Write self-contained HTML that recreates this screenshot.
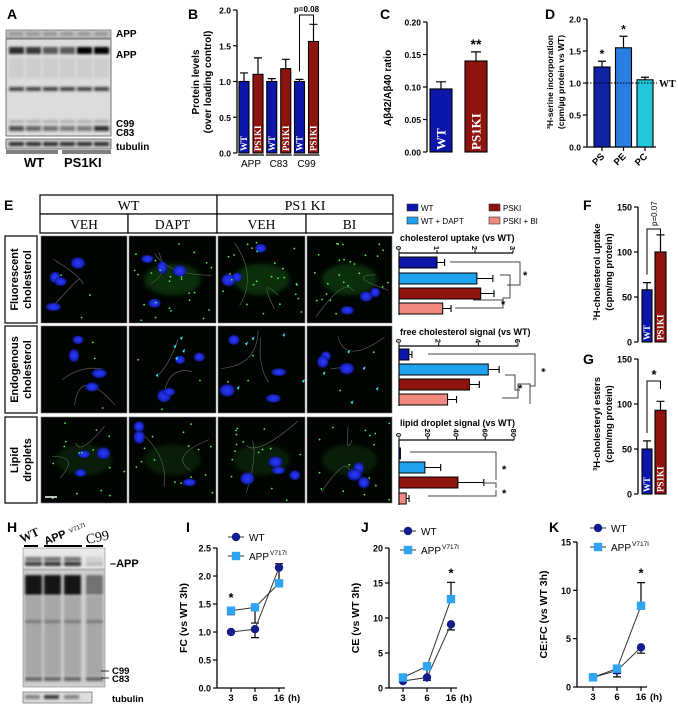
<!DOCTYPE html>
<html><head><meta charset="utf-8">
<style>
html,body{margin:0;padding:0;background:#fff;}
svg{display:block;}
text{font-family:"Liberation Sans",Arial,sans-serif;}
.b{font-weight:bold;}
.serif{font-family:"Liberation Serif","Times New Roman",serif;}
</style></head>
<body>
<svg id="fig" width="678" height="709" viewBox="0 0 678 709" xmlns="http://www.w3.org/2000/svg">
<defs>
<filter id="blur1" x="-20%" y="-50%" width="140%" height="200%"><feGaussianBlur stdDeviation="1.2"/></filter>
<filter id="blur2" x="-50%" y="-50%" width="200%" height="200%"><feGaussianBlur stdDeviation="2"/></filter>
<radialGradient id="nuc" cx="50%" cy="50%" r="50%"><stop offset="0" stop-color="#2a3cff"/><stop offset="0.7" stop-color="#1a26c8"/><stop offset="1" stop-color="#0a1070" stop-opacity="0.6"/></radialGradient>
</defs>
<g class="b" font-size="14" font-weight="bold">
<text x="7" y="19">A</text>
<text x="188" y="19">B</text>
<text x="380" y="19">C</text>
<text x="545" y="19">D</text>
<text x="4" y="210">E</text>
<text x="583" y="210">F</text>
<text x="583" y="364">G</text>
<text x="7" y="532">H</text>
<text x="186" y="532">I</text>
<text x="361" y="532">J</text>
<text x="549" y="532">K</text>
</g>
</svg>
<script>
// ---------- DATA ----------
const bCategories=["APP","C83","C99"];
const bWT=[1.0,1.0,1.0];
const bKI=[1.10,1.18,1.56];
const bWTerr=[0.12,0.04,0.03];
const bKIerr=[0.23,0.13,0.24];
const bTicks=[0,0.5,1.0,1.5,2.0];
const bTickLabels=["0.0","0.5","1.0","1.5","2.0"];

const cGroups=["WT","PS1KI"];
const cValues=[0.097,0.140];
const cErr=[0.011,0.014];
const cTicks=[0,0.05,0.10,0.15,0.20];
const cTickLabels=["0.00","0.05","0.10","0.15","0.20"];

const dCategories=["PS","PE","PC"];
const dValues=[1.25,1.55,1.05];
const dErr=[0.09,0.18,0.04];
const dTicks=[0,0.5,1.0,1.5,2.0];
const dTickLabels=["0.0","0.5","1.0","1.5","2.0"];

const eGroups=["WT","WT + DAPT","PSKI","PSKI + BI"];
const eUptake=[1.0,2.05,2.15,1.15];
const eUptakeErr=[0.2,0.42,0.35,0.22];
const eUptakeTicks=[0,1,2,3];
const eFree=[0.5,4.5,3.55,2.45];
const eFreeErr=[0.15,0.55,0.5,0.45];
const eFreeTicks=[0,2,4,6];
const eLipid=[1,18,41,5];
const eLipidErr=[0,11,18,2];
const eLipidTicks=[0,20,40,60,80];

const fGroups=["WT","PS1KI"];
const fValues=[58,100];
const fErr=[8,19];
const gValues=[50,93];
const gErr=[9,10];
const fgTicks=[0,50,100,150];

const timeLabels=["3","6","16"];
const iWT=[1.0,1.05,2.15];
const iWTerr=[0,0.15,0];
const iAPP=[1.38,1.44,1.87];
const iAPPerr=[0.07,0.28,0.35];
const iTicks=[0,0.5,1.0,1.5,2.0,2.5];
const iTickLabels=["0.0","0.5","1.0","1.5","2.0","2.5"];
const jWT=[1.0,1.5,9.1];
const jWTerr=[0,0.4,0.8];
const jAPP=[1.5,3.1,12.7];
const jAPPerr=[0.3,1.6,2.4];
const jTicks=[0,5,10,15,20];
const kWT=[1.0,1.7,4.1];
const kWTerr=[0,0.65,0.6];
const kAPP=[1.0,1.9,8.4];
const kAPPerr=[0,0.5,2.4];
const kTicks=[0,5,10,15];

// ---------- HELPERS ----------
const NS='http://www.w3.org/2000/svg';
const svg=document.getElementById('fig');
function mk(tag,a,p){const e=document.createElementNS(NS,tag);for(const k in a)e.setAttribute(k,a[k]);(p||svg).appendChild(e);return e;}
function txt(s,a,p){const e=mk('text',a,p);e.textContent=s;return e;}
function grp(name){const g=mk('g',{});


return g;}

function yAxis(g,x,yf,ticks,labels,fs){
  const l=mk('line',{x1:x,x2:x,y1:yf(ticks[ticks.length-1]),y2:yf(ticks[0]),stroke:'#000','stroke-width':1.3},g);
  
  
  ticks.forEach((t,i)=>{
    const tk=mk('line',{x1:x-4,x2:x,y1:yf(t),y2:yf(t),stroke:'#000','stroke-width':1.2},g);
    
    
    const tl=txt(labels[i],{x:x-6,y:yf(t)+3.5,'text-anchor':'end','font-size':fs||9,'font-weight':'bold'},g);
    
    
  });
}
function vbar(g,x,w,y0,ytop,fill,name){
  const r=mk('rect',{x:x,y:ytop,width:w,height:y0-ytop,fill:fill,stroke:'#000','stroke-width':1.1},g);
  
  
  return r;
}
function verr(g,cx,ytop,yerr,cap){
  const e=mk('path',{d:`M${cx},${ytop}V${yerr}M${cx-cap},${yerr}H${cx+cap}`,stroke:'#000','stroke-width':1.2,fill:'none'},g);
  
  
}
function barLabel(g,s,cx,ybottom,fs){
  const t=txt(s,{x:0,y:0,transform:`translate(${cx+fs*0.36},${ybottom-2}) rotate(-90)`,'font-size':fs,fill:'#fff','font-weight':'bold',class:'serif'},g);
  
  
}
function rotText(g,s,x,y,fs,name,extra){
  const t=txt(s,Object.assign({x:0,y:0,transform:`translate(${x},${y}) rotate(-90)`,'text-anchor':'middle','font-size':fs,'font-weight':'bold'},extra||{}),g);
  
  
  return t;
}
const C_WT='#0c16a8', C_KI='#8e1410', C_DAPT='#1ea2ee', C_BI='#f08a80';

// ---------- A: western blot ----------
(function(){
  const g=grp('panel-a-blot');
  const bg1=mk('rect',{x:6,y:30,width:105,height:8,fill:'#c4c4c4',stroke:'#777','stroke-width':0.8},g);
  
  
  const bg2=mk('rect',{x:6,y:39,width:105,height:97,fill:'#dcdcdc',stroke:'#555','stroke-width':0.8},g);
  
  
  const bg3=mk('rect',{x:6,y:139,width:105,height:10,fill:'#d0d0d0',stroke:'#555','stroke-width':0.8},g);
  
  
  const appI=[0.8,0.75,0.6,0.6,1,1];
  const c83I=[0.7,0.6,0.55,0.5,0.5,0.85];
  for(let i=0;i<6;i++){
    const x=9+i*17;
    const b=mk('g',{filter:'url(#blur1)'},g);
    
    
    mk('rect',{x:x,y:32,width:14,height:4,fill:'#999'},b);
    mk('rect',{x:x,y:47,width:15,height:7,fill:'#000','fill-opacity':appI[i]},b);
    mk('rect',{x:x,y:58,width:15,height:20,fill:'#aaa','fill-opacity':0.3},b);
    mk('rect',{x:x,y:87,width:15,height:4,fill:'#222','fill-opacity':0.8},b);
    mk('rect',{x:x,y:120,width:15,height:3,fill:'#444','fill-opacity':0.3},b);
    mk('rect',{x:x,y:126,width:15,height:5,fill:'#111','fill-opacity':c83I[i]},b);
    mk('rect',{x:x,y:142,width:15,height:4,fill:'#111','fill-opacity':0.85},b);
  }
  const labs=[["APP",34],["APP",55],["C99",124],["C83",133],["tubulin",147]];
  labs.forEach(l=>{const t=txt(l[0],{x:116,y:l[1]+3,'font-size':10,'font-weight':'bold'},g);
    
    });
  mk('path',{d:'M6,151H58M62,151H111M6,153H58M62,153H111',stroke:'#000','stroke-width':1},g);
  const w=txt('WT',{x:24,y:167,'font-size':13,'font-weight':'bold'},g);
  
  
  const k=txt('PS1KI',{x:64,y:167,'font-size':13,'font-weight':'bold'},g);
  
  
})();

// ---------- B ----------
(function(){
  const g=grp('panel-b-chart');
  const y=v=>153-v*71.5;
  yAxis(g,237,y,bTicks,bTickLabels,8.5);
  bCategories.forEach((c,i)=>{
    const cx=251+i*27.75;
    vbar(g,cx-12,10,y(0),y(bWT[i]),C_WT,'bar-wt-'+c.toLowerCase());
    verr(g,cx-7,y(bWT[i]),y(bWT[i]+bWTerr[i]),4);
    barLabel(g,'WT',cx-7,y(0),9);
    vbar(g,cx+2,10,y(0),y(bKI[i]),C_KI,'bar-ps1ki-'+c.toLowerCase());
    verr(g,cx+7,y(bKI[i]),y(bKI[i]+bKIerr[i]),4);
    barLabel(g,'PS1KI',cx+7,y(0),9);
    const ln=mk('line',{x1:cx-13,x2:cx+13,y1:155,y2:155,stroke:'#000','stroke-width':1.2},g);
    
    
    const t=txt(c,{x:cx,y:167,'text-anchor':'middle','font-size':10},g);
    
    
  });
  const cx=251+2*27.75;
  const br=mk('path',{d:`M${cx-7},${y(bWT[2])-10}V15H${cx+7}V24`,stroke:'#000','stroke-width':1,fill:'none'},g);
  
  
  const p=txt('p=0.08',{x:cx,y:12,'text-anchor':'middle','font-size':8,'font-weight':'bold'},g);
  
  
  rotText(g,'Protein levels',199,82,10,'y-axis-title');
  rotText(g,'(over loading control)',211,82,10,'y-axis-title');
})();

// ---------- C ----------
(function(){
  const g=grp('panel-c-chart');
  const y=v=>152-v*650;
  yAxis(g,427,y,cTicks,cTickLabels,8.5);
  const xs=[430,465], cols=[C_WT,C_KI];
  cGroups.forEach((c,i)=>{
    vbar(g,xs[i],22,y(0),y(cValues[i]),cols[i],'bar-'+c.toLowerCase());
    verr(g,xs[i]+11,y(cValues[i]),y(cValues[i]+cErr[i]),5);
    barLabel(g,c,xs[i]+11,y(0),13);
  });
  const s=txt('**',{x:476,y:y(cValues[1]+cErr[1])-3,'text-anchor':'middle','font-size':14,'font-weight':'bold'},g);
  
  
  rotText(g,'Aβ42/Aβ40 ratio',391,88,10,'y-axis-title');
})();

// ---------- D ----------
(function(){
  const g=grp('panel-d-chart');
  const y=v=>147-v*64;
  yAxis(g,587,y,dTicks,dTickLabels,8.5);
  const cols=['#1222a4','#2a7ee2','#22c8da'];
  const xl=mk('line',{x1:587,x2:656,y1:147,y2:147,stroke:'#000','stroke-width':1.3},g);
  
  
  dCategories.forEach((c,i)=>{
    const x=594+i*21.5;
    vbar(g,x,16,y(0),y(dValues[i]),cols[i],'bar-'+c.toLowerCase());
    verr(g,x+8,y(dValues[i]),y(dValues[i]+dErr[i]),4);
    const tk=mk('line',{x1:x+8,x2:x+8,y1:147,y2:151,stroke:'#000','stroke-width':1.2},g);
    
    
    const t=txt(c,{x:0,y:0,transform:`translate(${x+11},${157}) rotate(-45)`,'text-anchor':'end','font-size':9.5,'font-weight':'bold'},g);
    
    
    if(i<2){const s=txt('*',{x:x+8,y:y(dValues[i]+dErr[i])-3,'text-anchor':'middle','font-size':12,'font-weight':'bold'},g);
      
      }
  });
  const dl=mk('line',{x1:587,x2:657,y1:y(1),y2:y(1),stroke:'#000','stroke-width':1,'stroke-dasharray':'1.5,1.5'},g);
  
  
  const wt=txt('WT',{x:659,y:y(1)+4,'font-size':10,'font-weight':'bold',class:'serif'},g);
  
  
  rotText(g,'³H-serine incorporation',553,82,8.5,'y-axis-title');
  rotText(g,'(cpm/µg protein vs WT)',564,82,8.5,'y-axis-title');
})();

// ---------- E: table + microscopy ----------
(function(){
  const g=grp('panel-e-images');
  const hs=[[40,217,'WT'],[217,393,'PS1 KI']];
  hs.forEach(h=>{const r=mk('rect',{x:h[0],y:195,width:h[1]-h[0],height:19,fill:'#fff',stroke:'#000','stroke-width':1.2},g);
    
    
    const t=txt(h[2],{x:(h[0]+h[1])/2,y:210,'text-anchor':'middle','font-size':14,class:'serif'},g);
    
    });
  const cols=[[40,128,'VEH'],[128,217,'DAPT'],[217,306,'VEH'],[306,393,'BI']];
  cols.forEach(h=>{const r=mk('rect',{x:h[0],y:214,width:h[1]-h[0],height:19,fill:'#fff',stroke:'#000','stroke-width':1.2},g);
    
    
    const t=txt(h[2],{x:(h[0]+h[1])/2,y:229,'text-anchor':'middle','font-size':13.5,class:'serif'},g);
    
    });
  const rows=[[236,323,['Fluorescent','cholesterol']],[326,413,['Endogenous','cholesterol']],[417,503,['Lipid','droplets']]];
  let seed=7; const rnd=()=>{seed=(seed*9301+49297)%233280;return seed/233280;};
  rows.forEach((r,ri)=>{
    const lb=mk('rect',{x:5,y:r[0],width:32,height:r[1]-r[0],fill:'#fff',stroke:'#000','stroke-width':1.2},g);
    
    
    rotText(g,r[2][0],18,(r[0]+r[1])/2,11,'row-label');
    rotText(g,r[2][1],31,(r[0]+r[1])/2,11,'row-label');
    cols.forEach((c,ci)=>{
      const cell=mk('g',{},g);
      
      
      mk('rect',{x:c[0]+1,y:r[0],width:c[1]-c[0]-2,height:r[1]-r[0],fill:'#020402',stroke:'#777','stroke-width':0.6},cell);
      const w=c[1]-c[0]-8,h=r[1]-r[0]-8;
      for(let k=0;k<2;k++){
        const x1=c[0]+4+rnd()*w,y1=r[0]+4+rnd()*h,x2=c[0]+4+rnd()*w,y2=r[0]+4+rnd()*h;
        mk('path',{d:`M${x1},${y1}Q${c[0]+w/2},${r[0]+h/2} ${x2},${y2}`,stroke:'#aaa','stroke-width':0.6,fill:'none','stroke-opacity':0.6},cell);
      }
      const greenAmt=(ri===0&&ci>0)?1:(ri===2?0.6:0.15);
      if(greenAmt>0.3){
        mk('ellipse',{cx:c[0]+w*0.55,cy:r[0]+h*0.55,rx:w*0.35,ry:h*0.2,fill:'#1a7a1a','fill-opacity':0.35*greenAmt,filter:'url(#blur2)'},cell);
      }
      const nN=3+Math.floor(rnd()*2);
      for(let k=0;k<nN;k++){
        mk('ellipse',{cx:c[0]+10+rnd()*(w-12),cy:r[0]+8+rnd()*(h-12),rx:5+rnd()*3,ry:4+rnd()*3,fill:'url(#nuc)'},cell);
      }
      const nG=Math.floor(25*greenAmt);
      for(let k=0;k<nG;k++){
        mk('circle',{cx:c[0]+6+rnd()*w,cy:r[0]+6+rnd()*h,r:0.9,fill:'#4cf04c'},cell);
      }
      if(ri===1&&ci>0){for(let k=0;k<5;k++){
        mk('path',{d:`M${c[0]+8+rnd()*w},${r[0]+8+rnd()*h}l3,-2l-1,4z`,fill:'#30e0f0'},cell);}}
    });
  });
  const sb=mk('line',{x1:45,x2:57,y1:497,y2:497,stroke:'#fff','stroke-width':1.5},g);
  
  
})();

// ---------- E legend ----------
(function(){
  const g=grp('panel-e-legend');
  const cols=[C_WT,C_DAPT,C_KI,C_BI];
  const pos=[[407,204],[407,217],[489,204],[489,217]];
  eGroups.forEach((n,i)=>{
    const r=mk('rect',{x:pos[i][0],y:pos[i][1],width:11,height:7,fill:cols[i],stroke:'#333','stroke-width':0.6},g);
    
    
    const t=txt(n,{x:pos[i][0]+14,y:pos[i][1]+7,'font-size':8},g);
    
    
  });
})();

// ---------- E horizontal bar charts ----------
function hChart(name,title,titleY,axisY,xMax,xEnd,ticks,vals,errs,barYs){
  const g=grp(name);
  const x=v=>399+v*(xEnd-399)/xMax;
  const tt=txt(title,{x:400,y:titleY,'font-size':9,'font-weight':'bold'},g);
  
  
  const ax=mk('line',{x1:399,x2:x(xMax),y1:axisY,y2:axisY,stroke:'#000','stroke-width':1.2},g);
  
  
  const ay=mk('line',{x1:399,x2:399,y1:axisY,y2:barYs[3]+12,stroke:'#000','stroke-width':1.2},g);
  
  
  ticks.forEach(t=>{
    const tk=mk('line',{x1:x(t),x2:x(t),y1:axisY-3,y2:axisY,stroke:'#000','stroke-width':1},g);
    
    
    const tl=txt(String(t),{x:0,y:0,transform:`translate(${x(t)-3},${axisY-3}) rotate(90)`,'text-anchor':'end','font-size':7.5,'font-weight':'bold'},g);
    
    
  });
  const cols=[C_WT,C_DAPT,C_KI,C_BI];
  vals.forEach((v,i)=>{
    const r=mk('rect',{x:399,y:barYs[i],width:Math.max(1,x(v)-399),height:11,fill:cols[i],stroke:'#000','stroke-width':1},g);
    
    
    if(errs[i]>0){
      const e=mk('path',{d:`M${x(v)},${barYs[i]+5.5}H${x(v+errs[i])}M${x(v+errs[i])},${barYs[i]+2}V${barYs[i]+9}`,stroke:'#000','stroke-width':1.1,fill:'none'},g);
      
      
    }
  });
  return g;
}
(function(){
  const g1=hChart('panel-e-uptake-chart','cholesterol uptake (vs WT)',241,253,3,513,eUptakeTicks,eUptake,eUptakeErr,[257,273,288,303]);
  const s1=mk('path',{d:'M450,262H520V285H507M500,275H510V298H503V308H455M473,300H503',stroke:'#444','stroke-width':1,fill:'none'},g1);
  
  
  const a1=txt('*',{x:523,y:279,'font-size':11,'font-weight':'bold'},g1);
  
  
  const a2=txt('*',{x:501,y:308,'font-size':11,'font-weight':'bold'},g1);
  
  
  const g2=hChart('panel-e-free-chart','free cholesterol signal (vs WT)',335,346,6,518,eFreeTicks,eFree,eFreeErr,[349,364,379,394]);
  const s2=mk('path',{d:'M428,354H535V386H530M505,375H515V390H520M502,398H518V384H530V404',stroke:'#444','stroke-width':1,fill:'none'},g2);
  
  
  const a3=txt('*',{x:0,y:0,transform:'translate(538,368) rotate(90)','font-size':11,'font-weight':'bold'},g2);
  
  
  const a4=txt('*',{x:518,y:392,'font-size':11,'font-weight':'bold'},g2);
  
  
  const g3=hChart('panel-e-lipid-chart','lipid droplet signal (vs WT)',426,440,80,514,eLipidTicks,eLipid,eLipidErr,[448,462,477,493]);
  const s3=mk('path',{d:'M410,452H496V480M483,483H496V488M496,490V496H428',stroke:'#444','stroke-width':1,fill:'none'},g3);
  
  
  const a5=txt('*',{x:502,y:473,'font-size':11,'font-weight':'bold'},g3);
  
  
  const a6=txt('*',{x:502,y:497,'font-size':11,'font-weight':'bold'},g3);
  
  
})();

// ---------- F & G ----------
function fgChart(name,y0,vals,errs,t1,t2,sig){
  const g=grp(name);
  const y=v=>y0-v*0.9;
  yAxis(g,638,y,fgTicks,fgTicks.map(String),9);
  const xs=[642,655],w=[10,11],cols=[C_WT,C_KI];
  fGroups.forEach((c,i)=>{
    vbar(g,xs[i],w[i],y(0),y(vals[i]),cols[i],'bar-'+c.toLowerCase());
    verr(g,xs[i]+w[i]/2,y(vals[i]),y(vals[i]+errs[i]),4);
    barLabel(g,c,xs[i]+w[i]/2,y(0),9);
  });
  rotText(g,t1,600,y0-70,9.5,'y-axis-title');
  rotText(g,t2,612,y0-70,9.5,'y-axis-title');
  const top=y0-135+22;
  const br=mk('path',{d:`M647,${y(vals[0]+errs[0])-8}V${top}H660.5V${top+8}`,stroke:'#000','stroke-width':1,fill:'none'},g);
  
  
  if(sig==='*'){const s=txt('*',{x:654,y:top-2,'text-anchor':'middle','font-size':13,'font-weight':'bold'},g);
    
    }
  else{const s=txt(sig,{x:0,y:0,transform:`translate(657,${top-3}) rotate(-90)`,'font-size':8},g);
    
    }
}
fgChart('panel-f-chart',342,fValues,fErr,'³H-cholesterol uptake','(cpm/mg protein)','p=0.07');
fgChart('panel-g-chart',494,gValues,gErr,'³H-cholesteryl esters','(cpm/mg protein)','*');

// ---------- H blot ----------
(function(){
  const g=grp('panel-h-blot');
  mk('path',{d:'M24,546H38M44,546H82M86,546H103',stroke:'#000','stroke-width':2},g);
  const t1=txt('WT',{x:0,y:0,transform:'translate(22,543) rotate(-25)','font-size':12,'font-weight':'bold',class:'serif'},g);
  
  
  const t2=txt('APP',{x:0,y:0,transform:'translate(46,545) rotate(-22)','font-size':11,'font-weight':'bold'},g);
  
  
  const t2s=txt('V717I',{x:0,y:0,transform:'translate(70,533) rotate(-22)','font-size':6.5},g);
  
  
  const t3=txt('C99',{x:0,y:0,transform:'translate(87,544) rotate(-12)','font-size':14,class:'serif'},g);
  
  
  const r1=mk('rect',{x:23,y:548,width:82,height:21,fill:'#e8e8e8',stroke:'#888','stroke-width':0.6},g);
  
  
  const r2=mk('rect',{x:23,y:570,width:82,height:117,fill:'#cfcfcf',stroke:'#888','stroke-width':0.6},g);
  
  
  const r3=mk('rect',{x:23,y:692,width:69,height:11,fill:'#ddd',stroke:'#555','stroke-width':0.6},g);
  
  
  const bl=mk('g',{filter:'url(#blur1)'},g);
  
  
  const lx=[25,44,64,86], top=[0.8,0.85,0.85,0.2], heavy=[1,1,1,0.5];
  for(let i=0;i<4;i++){
    mk('rect',{x:lx[i],y:557,width:17,height:4,fill:'#222','fill-opacity':top[i]*0.7},bl);
    mk('rect',{x:lx[i],y:562,width:17,height:4,fill:'#111','fill-opacity':top[i]},bl);
    mk('rect',{x:lx[i],y:575,width:17,height:20,fill:'#000','fill-opacity':heavy[i]*0.9},bl);
    mk('rect',{x:lx[i],y:596,width:17,height:80,fill:'#777','fill-opacity':0.45},bl);
    mk('rect',{x:lx[i],y:620,width:17,height:3,fill:'#333','fill-opacity':0.4},bl);
    mk('rect',{x:lx[i],y:677,width:17,height:4,fill:'#333','fill-opacity':0.7},bl);
    mk('rect',{x:lx[i],y:695,width:i===3?0:15,height:4,fill:'#222','fill-opacity':i===1?0.9:0.5},bl);
  }
  mk('path',{d:'M101,671H109M101,678H109',stroke:'#000','stroke-width':0.8},g);
  const ls=[['–APP',110,567,11],['C99',112,674,9.5],['C83',112,682,9.5],['tubulin',112,702,9.5]];
  ls.forEach(l=>{const t=txt(l[0],{x:l[1],y:l[2],'font-size':l[3],'font-weight':'bold'},g);
    
    });
})();

// ---------- I, J, K line charts ----------
function lineChart(name,ax,yTop,y0,ymax,ticks,labels,x0,wt,wtErr,app,appErr,legY,title,stars){
  const g=grp(name);
  const y=v=>y0-v*(y0-yTop)/ymax;
  const xs=i=>x0+i*24;
  yAxis(g,ax,y,ticks,labels,9);
  const xl=mk('line',{x1:ax,x2:xs(2)+6,y1:y0,y2:y0,stroke:'#000','stroke-width':1.3},g);
  
  
  timeLabels.forEach((t,i)=>{
    const tk=mk('line',{x1:xs(i),x2:xs(i),y1:y0,y2:y0+4,stroke:'#000','stroke-width':1.2},g);
    
    
    const tl=txt(t,{x:xs(i),y:y0+13,'text-anchor':'middle','font-size':9.5,'font-weight':'bold'},g);
    
    
  });
  const h=txt('(h)',{x:xs(2)+9,y:y0+13,'font-size':9.5,'font-weight':'bold'},g);
  
  
  [[app,appErr,1],[wt,wtErr,-1]].forEach(s=>{
    s[0].forEach((v,i)=>{ if(s[1][i]>0){
      const dir=(s[2]===1 && i===0)||(i===1)||(s[2]===-1&&i===2)?-1:1;
      verr(g,xs(i),y(v),y(v+dir*s[1][i]),4);
    }});
  });
  const pl1=mk('polyline',{points:wt.map((v,i)=>xs(i)+','+y(v)).join(' '),fill:'none',stroke:'#333','stroke-width':1},g);
  
  
  const pl2=mk('polyline',{points:app.map((v,i)=>xs(i)+','+y(v)).join(' '),fill:'none',stroke:'#333','stroke-width':1},g);
  
  
  wt.forEach((v,i)=>{const c=mk('circle',{cx:xs(i),cy:y(v),r:4.2,fill:'#141c8e'},g);
    
    });
  app.forEach((v,i)=>{const r=mk('rect',{x:xs(i)-4.2,y:y(v)-4.2,width:8.4,height:8.4,fill:'#2ea4f2'},g);
    
    });
  stars.forEach(si=>{const top=Math.max(app[si]+appErr[si],wt[si]+wtErr[si]);
    const s=txt('*',{x:xs(si),y:y(top)-5,'text-anchor':'middle','font-size':13,'font-weight':'bold'},g);
    
    });
  const lx=x0+5;
  const lg=mk('g',{},g);
  
  
  mk('line',{x1:lx-8,x2:lx+8,y1:legY,y2:legY,stroke:'#333','stroke-width':1},lg);
  mk('circle',{cx:lx,cy:legY,r:4.2,fill:'#141c8e'},lg);
  const l1=txt('WT',{x:lx+13,y:legY+4,'font-size':10},lg);
  
  
  mk('line',{x1:lx-8,x2:lx+8,y1:legY+19,y2:legY+19,stroke:'#333','stroke-width':1},lg);
  mk('rect',{x:lx-4.2,y:legY+14.8,width:8.4,height:8.4,fill:'#2ea4f2'},lg);
  const l2=txt('APP',{x:lx+13,y:legY+23,'font-size':10},lg);
  
  
  const l3=txt('V717I',{x:lx+34,y:legY+18,'font-size':6.5},lg);
  
  
  rotText(g,title,ax-30,(yTop+y0)/2,10.5,'y-axis-title');
}
lineChart('panel-i-chart',217,548,688,2.5,iTicks,iTickLabels,231,iWT,iWTerr,iAPP,iAPPerr,537,'FC (vs WT 3h)',[0]);
lineChart('panel-j-chart',389,548,688,20,jTicks,jTicks.map(String),403,jWT,jWTerr,jAPP,jAPPerr,531,'CE (vs WT 3h)',[2]);
lineChart('panel-k-chart',577,542,687,15,kTicks,kTicks.map(String),593,kWT,kWTerr,kAPP,kAPPerr,528,'CE:FC (vs WT 3h)',[2]);
</script>
</body></html>
